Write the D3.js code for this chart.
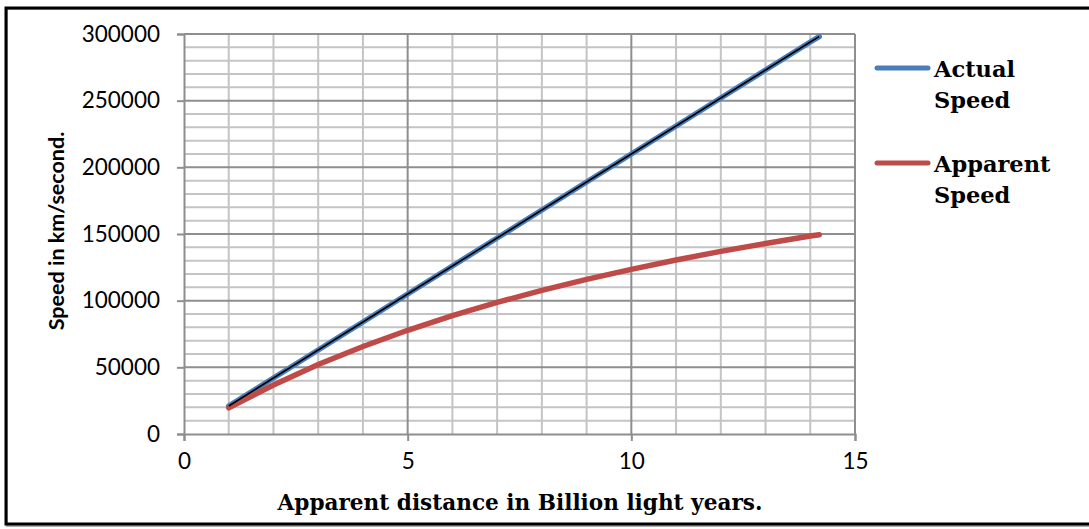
<!DOCTYPE html>
<html>
<head>
<meta charset="utf-8">
<script src="https://cdn.jsdelivr.net/npm/d3@7"></script>
<style>
  html, body { margin: 0; padding: 0; background: #fff; }
  svg { display: block; }
</style>
</head>
<body>
<svg id="chart" width="1089" height="529"></svg>
<script>
// Distance (billion light years) and the two speed series (km/s)
const distance = [1, 2, 3, 4, 5, 6, 7, 8, 9, 10, 11, 12, 13, 14, 14.2];
const actualSpeed = [21000, 42000, 63000, 84000, 105000, 126000, 147000, 168000, 189000, 210000, 231000, 252000, 273000, 294000, 298000];
const apparentSpeed = [19600, 36800, 52100, 65600, 77800, 88700, 98700, 107700, 116000, 123500, 130500, 137000, 142900, 148500, 149500];

const xTicks = [0, 5, 10, 15];
const yTicks = [0, 50000, 100000, 150000, 200000, 250000, 300000];
const seriesNames = ["Actual Speed", "Apparent Speed"];

const svg = d3.select("#chart");

// outer frame
svg.append("rect").attr("x", 7).attr("y", 9).attr("width", 1090).attr("height", 517)
  .attr("fill", "none").attr("stroke", "#b0b0b0").attr("stroke-width", 2);
svg.append("rect").attr("x", 6).attr("y", 8).attr("width", 1090).attr("height", 516)
  .attr("fill", "none").attr("stroke", "#000").attr("stroke-width", 3);

const plot = { left: 184, right: 855, top: 34, bottom: 434 };

const x = d3.scaleLinear().domain([0, 15]).range([plot.left, plot.right]);
const y = d3.scaleLinear().domain([0, 300000]).range([plot.bottom, plot.top]);

const g = svg.append("g");

// minor grid
const minorY = d3.range(0, 300001, 10000).filter(v => v % 50000 !== 0);
const minorX = d3.range(0, 16, 1).filter(v => v % 5 !== 0);
g.selectAll(".hminor").data(minorY).join("line")
  .attr("x1", plot.left).attr("x2", plot.right)
  .attr("y1", d => y(d)).attr("y2", d => y(d))
  .attr("stroke", "#c4c4c4").attr("stroke-width", 2);
g.selectAll(".vminor").data(minorX).join("line")
  .attr("y1", plot.top).attr("y2", plot.bottom)
  .attr("x1", d => x(d)).attr("x2", d => x(d))
  .attr("stroke", "#c4c4c4").attr("stroke-width", 2);
// major grid
g.selectAll(".hmajor").data(yTicks.filter(v => v > 0)).join("line")
  .attr("x1", plot.left).attr("x2", plot.right)
  .attr("y1", d => y(d)).attr("y2", d => y(d))
  .attr("stroke", "#8e8e8e").attr("stroke-width", 2);
g.selectAll(".vmajor").data(xTicks.filter(v => v > 0)).join("line")
  .attr("y1", plot.top).attr("y2", plot.bottom)
  .attr("x1", d => x(d)).attr("x2", d => x(d))
  .attr("stroke", "#8e8e8e").attr("stroke-width", 2);

// axes
const yAxis = d3.axisLeft(y).tickValues(yTicks).tickSize(7).tickPadding(17).tickFormat(d3.format("d"));
const xAxis = d3.axisBottom(x).tickValues(xTicks).tickSize(7).tickPadding(12).tickFormat(d3.format("d"));

const ya = svg.append("g").attr("transform", `translate(${plot.left},0)`).call(yAxis);
const xa = svg.append("g").attr("transform", `translate(0,${plot.bottom})`).call(xAxis);
[ya, xa].forEach(a => {
  a.select(".domain").attr("stroke", "#8e8e8e").attr("stroke-width", 2);
  a.selectAll(".tick line").attr("stroke", "#8e8e8e").attr("stroke-width", 2);
  a.selectAll(".tick text").attr("fill", "#000")
    .style("font-family", "Lato, sans-serif").style("font-size", "22.5px");
});

// series lines
const line = ys => d3.line().x((d, i) => x(distance[i])).y((d, i) => y(ys[i]))(ys);

svg.append("path").attr("d", line(actualSpeed))
  .attr("fill", "none").attr("stroke", "#4a7ebb").attr("stroke-width", 5.5).attr("stroke-linecap", "round");
svg.append("path").attr("d", line(apparentSpeed))
  .attr("fill", "none").attr("stroke", "#be4b48").attr("stroke-width", 5.5).attr("stroke-linecap", "round");
svg.append("path").attr("d", line(actualSpeed))
  .attr("fill", "none").attr("stroke", "#000").attr("stroke-width", 1.6);

// axis titles
svg.append("text")
  .attr("x", 520).attr("y", 510).attr("text-anchor", "middle")
  .style("font-family", "'DejaVu Serif', serif").style("font-weight", "bold").style("font-size", "21.6px")
  .text("Apparent distance in Billion light years.");

svg.append("text")
  .attr("transform", "translate(64,231) rotate(-90)").attr("text-anchor", "middle")
  .style("font-family", "Lato, sans-serif").style("font-weight", "bold").style("font-size", "21.5px")
  .text("Speed in km/second.");

// legend
const legendColors = ["#4a7ebb", "#be4b48"];
const legendY = [68, 163];
seriesNames.forEach((name, i) => {
  svg.append("line")
    .attr("x1", 877).attr("x2", 928).attr("y1", legendY[i]).attr("y2", legendY[i])
    .attr("stroke", legendColors[i]).attr("stroke-width", 5).attr("stroke-linecap", "round");
  const words = name.split(" ");
  const t = svg.append("text")
    .style("font-family", "'DejaVu Serif', serif").style("font-weight", "bold").style("font-size", "22.5px");
  words.forEach((w, k) => {
    t.append("tspan").attr("x", 934).attr("y", legendY[i] + 9 + k * 31).text(w);
  });
});
</script>
</body>
</html>
